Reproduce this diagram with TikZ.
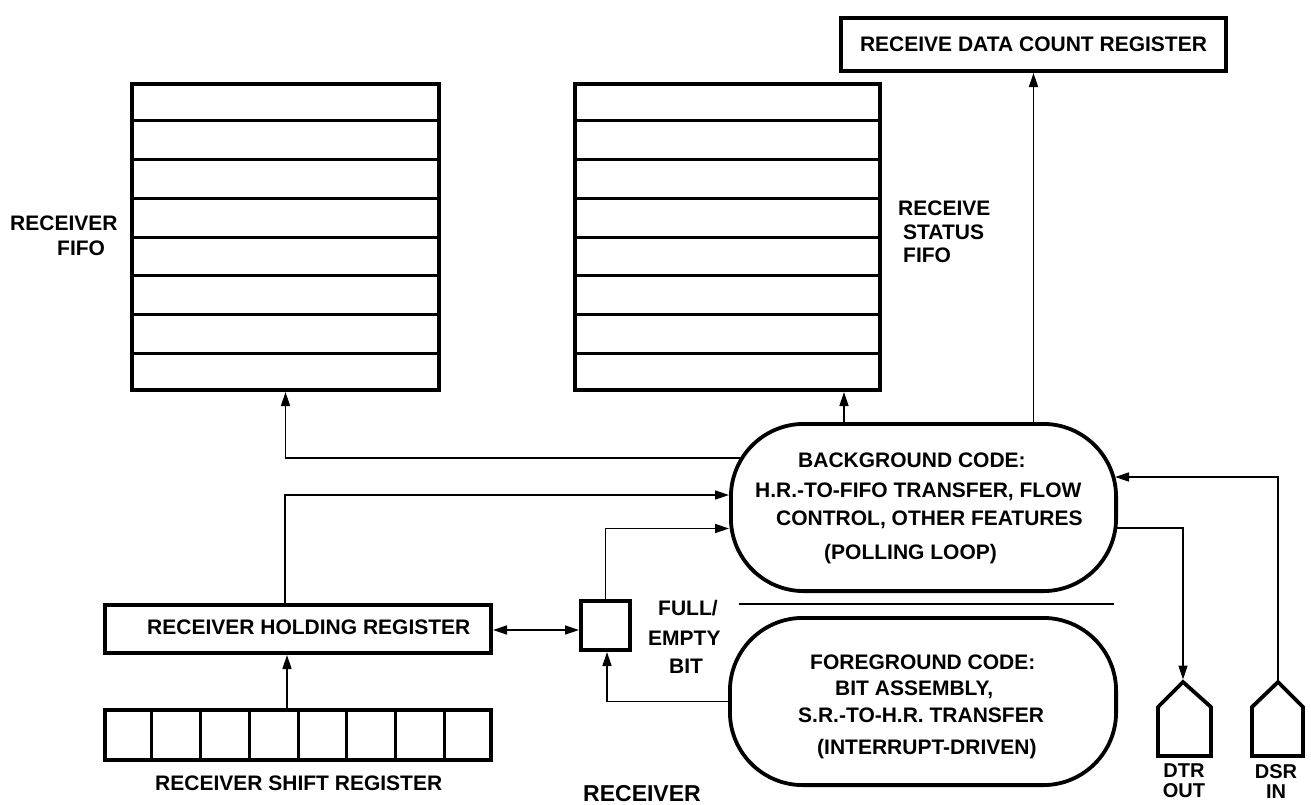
\documentclass[tikz,border=0pt]{standalone}
\usepackage{fontspec}
\setmainfont{Liberation Sans}
\usetikzlibrary{arrows.meta,calc}
\tikzset{
  thickbox/.style={draw, line width=3.8pt, inner sep=0pt, fill=white},
  divider/.style={line width=3pt},
  conn/.style={line width=1.6pt},
  arr/.style={conn, -{Triangle[length=14pt,width=9pt]}},
  darr/.style={conn, {Triangle[length=14pt,width=9pt]}-{Triangle[length=14pt,width=9pt]}},
  lbl/.style={font=\bfseries\fontsize{21}{24}\selectfont, inner sep=0pt, anchor=base west},
  biglbl/.style={font=\bfseries\fontsize{23}{26}\selectfont, inner sep=0pt, anchor=base west},
  pinlbl/.style={font=\bfseries\fontsize{20}{20}\selectfont, inner sep=0pt, align=center, anchor=north},
  pin/.style={line width=3.8pt, line join=miter},
}
\begin{document}
\begin{tikzpicture}[x=1pt,y=-1pt]
\fill[white] (0,0) rectangle (1311,804);
\useasboundingbox (0,0) rectangle (1311,804);

% FIFOs
\node[thickbox, minimum width=307.2pt, minimum height=306.2pt] (fifo1) at (285.5,237) {};
\node[thickbox, minimum width=305.2pt, minimum height=306.2pt] (fifo2) at (727.5,237) {};
\foreach \f in {fifo1,fifo2}{
  \foreach \i in {1,...,7}{
    \draw[divider] ($(\f.north west)!\i/8!(\f.south west)$) -- ($(\f.north east)!\i/8!(\f.south east)$);
  }
}

% Receive data count register
\node[thickbox, minimum width=385.2pt, minimum height=53.2pt,
      font=\bfseries\fontsize{21}{24}\selectfont] (rdcr) at (1033.5,44.5) {RECEIVE DATA COUNT REGISTER};

% Code blocks
\node[thickbox, rounded corners=73pt, minimum width=385.2pt, minimum height=167.2pt] (bg) at (923.5,507.5) {};
\node[thickbox, rounded corners=73pt, minimum width=386.2pt, minimum height=167.2pt] (fg) at (923,701.5) {};

% Registers
\node[thickbox, minimum width=386.2pt, minimum height=48.2pt] (rhr) at (298,629) {};
\node[thickbox, minimum width=386.2pt, minimum height=50.2pt] (sr) at (298,735) {};
\foreach \i in {1,...,7}{
  \draw[divider] ($(sr.north west)!\i/8!(sr.north east)$) -- ($(sr.south west)!\i/8!(sr.south east)$);
}
\node[thickbox, minimum width=49.2pt, minimum height=49.2pt] (fe) at (605.5,625.5) {};

% separator
\draw[conn] (739,604) -- (1114,604);

% DTR / DSR pins
\draw[pin] (1158,756) -- (1158,707) -- (1183,682) -- (1211,707) -- (1211,756) -- cycle;
\draw[pin] (1252,756) -- (1252,707) -- (1278,682) -- (1303,707) -- (1303,756) -- cycle;
\coordinate (dtrtop) at (1183,679.5);
\coordinate (dsrtop) at (1278,679.5);

% Connectors
\draw[arr] ([xshift=11pt,yshift=49.5pt]bg.west) -| (fifo1.south);
\draw[arr] ([xshift=-13pt]rhr.north) |- ([yshift=12.5pt]bg.west);
\draw[arr] (fe.north) |- ([yshift=-21pt]bg.west);
\draw[arr] ([xshift=-79.5pt]bg.north) -- ([xshift=-79.5pt]bg.north |- fifo2.south);
\draw[arr] ([xshift=110pt]bg.north) -- ([xshift=110pt]bg.north |- rdcr.south);
\draw[arr] ([xshift=-1pt,yshift=-20.5pt]bg.east) -| (dtrtop);
\draw[arr] (dsrtop) |- ([xshift=-3pt,yshift=30.5pt]bg.east);
\draw[arr] (fg.west) -| ([xshift=1.5pt]fe.south);
\draw[arr] ([xshift=-11pt]sr.north) -- ([xshift=-11pt]sr.north |- rhr.south);
\draw[darr] ([yshift=-1pt]rhr.east) -- ([yshift=-1pt]rhr.east -| fe.west);

% Labels
\node[lbl] (l1) at (10,230.5) {RECEIVER};
\node[lbl] (l2) at (57,255.5) {FIFO};
\node[lbl] (l3) at (898,215.5) {RECEIVE};
\node[lbl] (l4) at (903,239.5) {STATUS};
\node[lbl] (l5) at (903,262.5) {FIFO};
\node[lbl] (l6) at (147,634.5) {RECEIVER HOLDING REGISTER};
\node[lbl] (l7) at (155,790.5) {RECEIVER SHIFT REGISTER};
\node[lbl] (l8) at (658,615.5) {FULL/};
\node[lbl] (l9) at (648,645.5) {EMPTY};
\node[lbl] (l10) at (669,673.5) {BIT};
\node[biglbl] (l11) at (583,801) {RECEIVER};
\node[lbl] (b1) at (798,467.5) {BACKGROUND CODE:};
\node[lbl] (b2) at (755,497.5) {H.R.-TO-FIFO TRANSFER, FLOW};
\node[lbl] (b3) at (776,525.5) {CONTROL, OTHER FEATURES};
\node[lbl] (b4) at (824,559.5) {(POLLING LOOP)};
\node[lbl] (f1) at (810,669.5) {FOREGROUND CODE:};
\node[lbl] (f2) at (835,695.5) {BIT ASSEMBLY,};
\node[lbl] (f3) at (798,722.5) {S.R.-TO-H.R. TRANSFER};
\node[lbl] (f4) at (817,754.5) {(INTERRUPT-DRIVEN)};
\node[pinlbl] (dtrl) at (1184,764) {DTR\\OUT};
\node[pinlbl] (dsrl) at (1276,764) {DSR\\IN};
\end{tikzpicture}
\end{document}
